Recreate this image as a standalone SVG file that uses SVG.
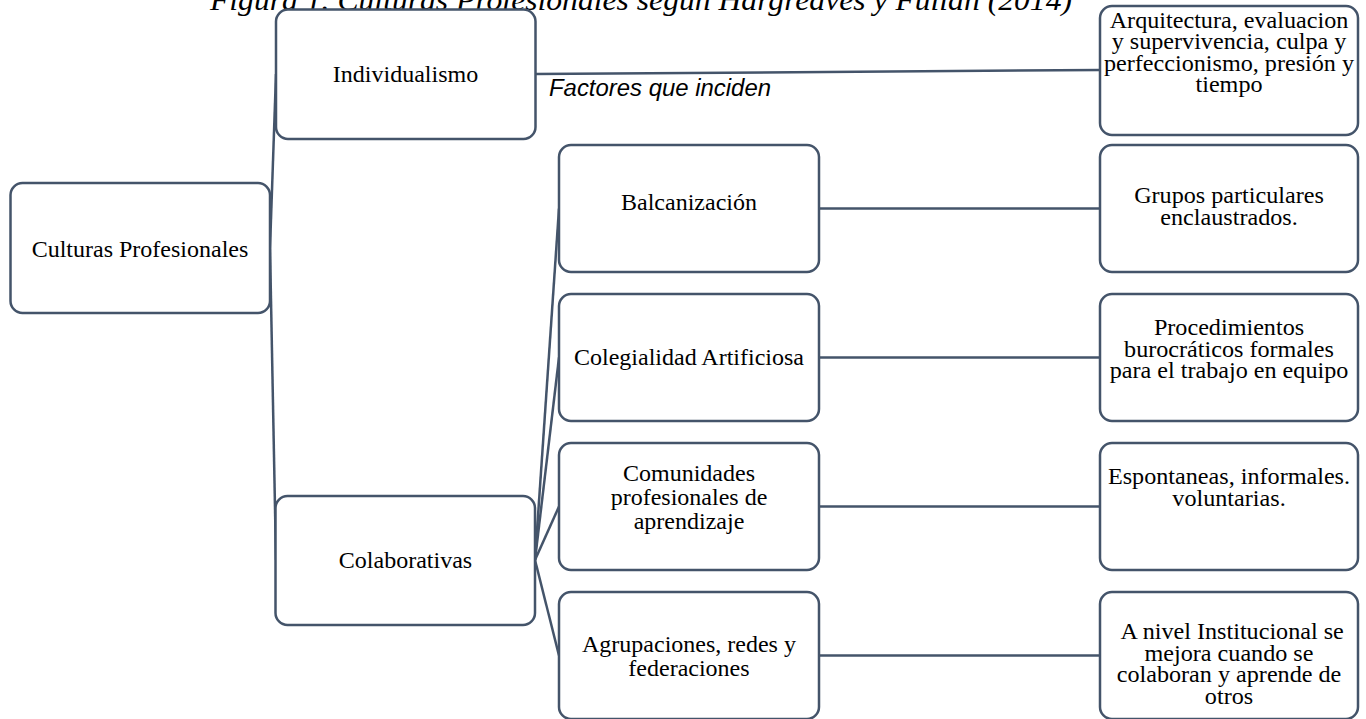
<svg xmlns="http://www.w3.org/2000/svg" width="1366" height="719" viewBox="0 0 1366 719">
  <style>
    .box { fill: #ffffff; stroke: #44546A; stroke-width: 2.5; }
    .conn { fill: none; stroke: #44546A; stroke-width: 2.5; }
    .t { font-family: "Liberation Serif", "Times New Roman", serif; font-size: 24px; fill: #000000; text-anchor: middle; }
    .rt { font-family: "Liberation Serif", "Times New Roman", serif; font-size: 23px; fill: #000000; text-anchor: middle; }
    .title { font-family: "Liberation Serif", "Times New Roman", serif; font-size: 30px; font-style: italic; fill: #000000; }
    .lbl { font-family: "Liberation Sans", Arial, sans-serif; font-size: 23px; font-style: italic; fill: #000000; }
  </style>
  <rect x="0" y="0" width="1366" height="719" fill="#ffffff"/>

  <text class="title" x="210" y="10" textLength="862" lengthAdjust="spacingAndGlyphs">Figura 1. Culturas Profesionales según Hargreaves y Fullan (2014)</text>

  <g id="connectors">
    <line class="conn" x1="270" y1="248" x2="276" y2="74"/>
    <line class="conn" x1="270" y1="248" x2="276" y2="560"/>
    <line class="conn" x1="535" y1="74" x2="1100" y2="70"/>
    <line class="conn" x1="535" y1="560" x2="559" y2="208.5"/>
    <line class="conn" x1="535" y1="560" x2="559" y2="357.5"/>
    <line class="conn" x1="535" y1="560" x2="559" y2="506.5"/>
    <line class="conn" x1="535" y1="560" x2="559" y2="655.5"/>
    <line class="conn" x1="819" y1="208.5" x2="1100" y2="208.5"/>
    <line class="conn" x1="819" y1="357.5" x2="1100" y2="357.5"/>
    <line class="conn" x1="819" y1="506.5" x2="1100" y2="506.5"/>
    <line class="conn" x1="819" y1="655.5" x2="1100" y2="655.5"/>
    <text class="lbl" x="549" y="96" textLength="222" lengthAdjust="spacingAndGlyphs">Factores que inciden</text>
  </g>

  <g id="culturas">
    <rect class="box" x="10.5" y="183" width="259.5" height="130" rx="12"/>
    <text class="t" x="140" y="257">Culturas Profesionales</text>
  </g>

  <g id="individualismo">
    <rect class="box" x="276" y="9.5" width="259.5" height="129.5" rx="12"/>
    <text class="t" x="405.5" y="82">Individualismo</text>
  </g>

  <g id="colaborativas">
    <rect class="box" x="275.5" y="496" width="259.5" height="129" rx="12"/>
    <text class="t" x="405.5" y="568">Colaborativas</text>
  </g>

  <g id="balcanizacion">
    <rect class="box" x="559" y="145" width="260" height="127" rx="12"/>
    <text class="t" x="689" y="210">Balcanización</text>
  </g>

  <g id="colegialidad">
    <rect class="box" x="559" y="294" width="260" height="127" rx="12"/>
    <text class="t" x="689" y="365">Colegialidad Artificiosa</text>
  </g>

  <g id="comunidades">
    <rect class="box" x="559" y="443" width="260" height="127" rx="12"/>
    <text class="t"><tspan x="689" y="481">Comunidades</tspan><tspan x="689" y="505">profesionales de</tspan><tspan x="689" y="529">aprendizaje</tspan></text>
  </g>

  <g id="agrupaciones">
    <rect class="box" x="559" y="592" width="260" height="127" rx="12"/>
    <text class="t"><tspan x="689" y="652">Agrupaciones, redes y</tspan><tspan x="689" y="676">federaciones</tspan></text>
  </g>

  <g id="arquitectura">
    <rect class="box" x="1100" y="6" width="258" height="129" rx="12"/>
    <text class="rt" transform="translate(1229 0) scale(1.05 1)"><tspan x="0" y="28">Arquitectura, evaluacion</tspan><tspan x="0" y="49.5">y supervivencia, culpa y</tspan><tspan x="0" y="71">perfeccionismo, presión y</tspan><tspan x="0" y="92.5">tiempo</tspan></text>
  </g>

  <g id="grupos">
    <rect class="box" x="1100" y="145" width="258" height="127" rx="12"/>
    <text class="rt" transform="translate(1229 0) scale(1.05 1)"><tspan x="0" y="203.5">Grupos particulares</tspan><tspan x="0" y="225">enclaustrados.</tspan></text>
  </g>

  <g id="procedimientos">
    <rect class="box" x="1100" y="294" width="258" height="127" rx="12"/>
    <text class="rt" transform="translate(1229 0) scale(1.05 1)"><tspan x="0" y="335.5">Procedimientos</tspan><tspan x="0" y="357">burocráticos formales</tspan><tspan x="0" y="378.5">para el trabajo en equipo</tspan></text>
  </g>

  <g id="espontaneas">
    <rect class="box" x="1100" y="443" width="258" height="127" rx="12"/>
    <text class="rt" transform="translate(1229 0) scale(1.05 1)"><tspan x="0" y="484.5">Espontaneas, informales.</tspan><tspan x="0" y="506">voluntarias.</tspan></text>
  </g>

  <g id="anivel">
    <rect class="box" x="1100" y="592" width="258" height="127" rx="12"/>
    <text class="rt" transform="translate(1229 0) scale(1.05 1)"><tspan x="3" y="639.5">A nivel Institucional se</tspan><tspan x="0" y="661">mejora cuando se</tspan><tspan x="0" y="682.5">colaboran y aprende de</tspan><tspan x="0" y="704">otros</tspan></text>
  </g>
</svg>
